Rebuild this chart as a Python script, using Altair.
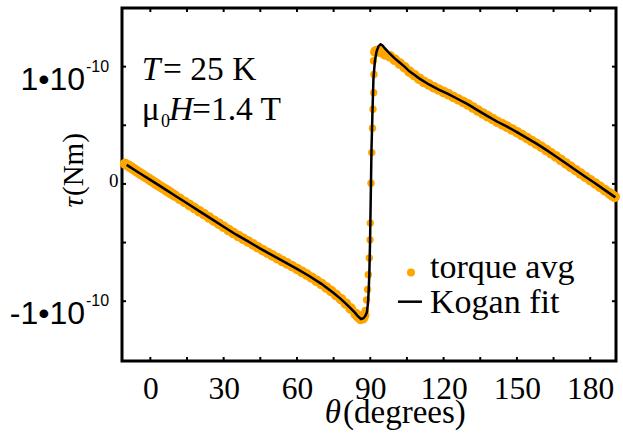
import altair as alt
import pandas as pd

# ---- data (torque in units of 1e-10 N·m, angle in degrees) ----
avg_theta = [-10.3, -9, -8, -7, -6, -5, -4, -3, -2, -1, 0, 1, 2, 3, 4, 5, 6, 7, 8, 9,
             10, 12, 14, 16, 18, 20, 22, 24, 26, 28,
             30, 32, 34, 36, 38, 40, 42, 44, 46, 48, 50, 52, 54, 56, 58, 60, 62, 64, 66, 68,
             70, 72, 74, 76, 78, 80, 82, 84, 85, 86, 87, 87.5,
             88.0, 88.5, 88.9, 89.2, 89.6, 89.9, 90.0, 90.3, 90.6, 90.9, 91.1, 91.4, 91.5, 91.3, 91.5,
             92.2, 93, 94, 95, 96, 98, 100, 102, 104, 106, 108, 110, 112, 114, 116, 118, 120,
             122, 124, 126, 128, 130, 132, 134, 136, 138, 140, 142, 144, 146, 148, 150, 152,
             154, 156, 158, 160, 162, 164, 166, 168, 170, 172, 174, 176, 178, 180, 182, 184,
             186, 188, 189, 190]
avg_tau = [0.172, 0.156, 0.143, 0.129, 0.115, 0.101, 0.088, 0.074, 0.061, 0.048, 0.034,
           0.021, 0.007, -0.007, -0.020, -0.033, -0.046, -0.059, -0.072, -0.086, -0.099,
           -0.126, -0.152, -0.179, -0.205, -0.232, -0.258, -0.285, -0.312, -0.338,
           -0.365, -0.392, -0.418, -0.443, -0.467, -0.490, -0.515, -0.540, -0.564, -0.587,
           -0.610, -0.633, -0.656, -0.678, -0.700, -0.724, -0.748, -0.772, -0.798, -0.825,
           -0.852, -0.882, -0.913, -0.947, -0.982, -1.020, -1.062, -1.108, -1.130, -1.150, -1.145, -1.120,
           -1.080, -0.990, -0.900, -0.775, -0.632, -0.477, -0.334, 0.006, 0.267, 0.474, 0.636, 0.777, 0.933, 1.050, 1.120,
           1.130, 1.135, 1.130, 1.120, 1.105, 1.090, 1.060, 1.028, 0.995, 0.958, 0.928, 0.898, 0.870, 0.848, 0.825, 0.805, 0.785,
           0.765, 0.743, 0.722, 0.700, 0.678, 0.653, 0.627, 0.602, 0.578, 0.555, 0.530, 0.510, 0.488, 0.465, 0.442, 0.418,
           0.393, 0.368, 0.343, 0.317, 0.290, 0.262, 0.234, 0.205, 0.176, 0.147, 0.118, 0.090, 0.061, 0.033, 0.005, -0.024,
           -0.053, -0.081, -0.096, -0.110]

fit_theta = [-9.7, -5, 0, 5, 10, 15, 20, 25, 30, 35, 40, 45, 50, 55, 60, 65, 70, 75, 78, 80, 82,
             83.8, 85, 86.2, 87.2, 88.0, 88.6, 89.0, 89.3, 89.6, 89.9, 90.2, 90.5, 90.9, 91.3,
             91.9, 92.6, 93.4, 94.2, 95, 96, 98, 100, 102, 104, 106, 108, 110, 114, 118, 122,
             126, 130, 134, 138, 142, 146, 150, 154, 158, 162, 166, 170, 174, 178, 182, 186, 190.3]
fit_tau = [0.162, 0.100, 0.034, -0.032, -0.099, -0.165, -0.232, -0.298, -0.365, -0.431, -0.490,
           -0.552, -0.610, -0.667, -0.724, -0.785, -0.852, -0.930, -0.982, -1.020, -1.062,
           -1.100, -1.130, -1.152, -1.145, -1.125, -1.095, -1.030, -0.930, -0.780, -0.500, -0.100, 0.300, 0.620, 0.900,
           1.050, 1.130, 1.175, 1.190, 1.180, 1.155, 1.110, 1.070, 1.035, 1.000, 0.960, 0.930, 0.900, 0.848, 0.805, 0.765,
           0.722, 0.678, 0.627, 0.578, 0.530, 0.488, 0.442, 0.393, 0.343, 0.290, 0.234, 0.176, 0.118, 0.061, 0.005, -0.053, -0.115]

x_tick_values = [0, 15, 30, 45, 60, 75, 90, 105, 120, 135, 150, 165, 180]
x_label_values = [0, 30, 60, 90, 120, 150, 180]
y_tick_values = [-1, -0.5, 0, 0.5, 1]
y_power_values = [1, -1]
y_power_base = ["1•10", "-1•10"]
y_power_exp = ["-10", "-10"]

ORANGE = "#FFA500"
SERIF = "Liberation Serif"
SANS = "Liberation Sans"
W, H = 494, 353

xs = alt.Scale(domain=[-11.6, 190.55], nice=False, zero=False)
ys = alt.Scale(domain=[-1.51, 1.50], nice=False, zero=False)

xaxis = alt.Axis(values=x_label_values, title=None, labelFont=SERIF, labelFontSize=31.5,
                 labelColor="black", ticks=False, tickSize=0, domain=False, grid=False,
                 labelPadding=12, labelFlush=False, labelOverlap=False)
yaxis = alt.Axis(values=[0], title=None, labelFont=SERIF, labelFontSize=19,
                 labelColor="black", ticks=False, tickSize=0, domain=False, grid=False,
                 labelPadding=4, labelOffset=-3, labelFlush=False)

avg_df = pd.DataFrame({"theta": avg_theta, "tau": avg_tau})
fit_df = pd.DataFrame({"theta": fit_theta, "tau": fit_tau})

in_jump = "datum.theta > 87.8 && datum.theta < 91.6"
dots_band = alt.Chart(avg_df).transform_filter("!(" + in_jump + ")").mark_circle(
    color=ORANGE, size=115, opacity=1).encode(
    x=alt.X("theta:Q", scale=xs, axis=xaxis),
    y=alt.Y("tau:Q", scale=ys, axis=yaxis),
)
dots_jump = alt.Chart(avg_df).transform_filter(in_jump).mark_circle(
    color=ORANGE, size=55, opacity=1).encode(
    x=alt.X("theta:Q", scale=xs, axis=xaxis),
    y=alt.Y("tau:Q", scale=ys, axis=yaxis),
)
fit = alt.Chart(fit_df).mark_line(color="black", strokeWidth=2.5).encode(
    x=alt.X("theta:Q", scale=xs, axis=xaxis),
    y=alt.Y("tau:Q", scale=ys, axis=yaxis),
)

xt = pd.DataFrame({"t": x_tick_values})
yt = pd.DataFrame({"t": y_tick_values})
tick_bottom = alt.Chart(xt).mark_rule(color="black", strokeWidth=2).encode(
    x=alt.X("t:Q", scale=xs, axis=xaxis), y=alt.value(H), y2=alt.value(H - 4))
tick_top = alt.Chart(xt).mark_rule(color="black", strokeWidth=2).encode(
    x=alt.X("t:Q", scale=xs, axis=xaxis), y=alt.value(0), y2=alt.value(4))
tick_left = alt.Chart(yt).mark_rule(color="black", strokeWidth=2).encode(
    y=alt.Y("t:Q", scale=ys, axis=yaxis), x=alt.value(0), x2=alt.value(4))
tick_right = alt.Chart(yt).mark_rule(color="black", strokeWidth=2).encode(
    y=alt.Y("t:Q", scale=ys, axis=yaxis), x=alt.value(W - 4), x2=alt.value(W))

pw = pd.DataFrame({"v": y_power_values, "base": y_power_base, "exp": y_power_exp})
pow_base = alt.Chart(pw).mark_text(align="right", baseline="alphabetic", font=SANS,
                                   fontSize=32, dy=23, color="black").encode(
    y=alt.Y("v:Q", scale=ys, axis=yaxis), x=alt.value(-37), text="base:N")
pow_exp = alt.Chart(pw).mark_text(align="left", baseline="alphabetic", font=SANS,
                                  fontSize=16, dy=5, color="black").encode(
    y=alt.Y("v:Q", scale=ys, axis=yaxis), x=alt.value(-36), text="exp:N")


def txt(s, x, y, size=33.5, style="normal", align="left", angle=0, font=SERIF):
    kw = dict(align=align, baseline="alphabetic", font=font, fontSize=size,
              fontStyle=style, color="black")
    if angle:
        kw["angle"] = angle
    return alt.Chart(pd.DataFrame({"s": [s]})).mark_text(**kw).encode(
        x=alt.value(x), y=alt.value(y), text="s:N")


texts = [
    # x title
    txt("θ", 219, 415, size=33, style="italic", align="right"),
    txt("(degrees)", 221, 415, size=33),
    # y title
    txt("τ", -39, 189, size=29, style="italic", align="right", angle=270),
    txt("(Nm)", -39, 188, size=29, angle=270),
    # annotation
    txt("T", 19.7, 72, style="italic"),
    txt("= 25 K", 41, 72),
    txt("μ", 19.7, 112),
    txt("0", 39, 119, size=18),
    txt("H", 47, 112, style="italic"),
    txt("=1.4 T", 70, 112),
    # legend
    txt("torque avg", 308, 270, size=34),
    txt("Kogan fit", 308, 305, size=34),
]

leg_dot = alt.Chart(pd.DataFrame({"s": ["torque avg"]})).mark_circle(
    color=ORANGE, size=64, opacity=1).encode(x=alt.value(289), y=alt.value(264.5))
leg_line = alt.Chart(pd.DataFrame({"s": ["Kogan fit"]})).mark_rule(
    color="black", strokeWidth=2.5).encode(x=alt.value(276), x2=alt.value(300), y=alt.value(293.7))

chart = alt.layer(
    dots_band, dots_jump, fit, tick_bottom, tick_top, tick_left, tick_right, pow_base, pow_exp,
    leg_dot, leg_line, *texts
).properties(
    width=W, height=H,
    autosize=alt.AutoSizeParams(type="none"),
    padding={"left": 122, "top": 8, "right": 7, "bottom": 79},
    background="white",
).configure_view(stroke="black", strokeWidth=3)

chart.save("out.html", embed_options={"renderer": "svg", "actions": False})
